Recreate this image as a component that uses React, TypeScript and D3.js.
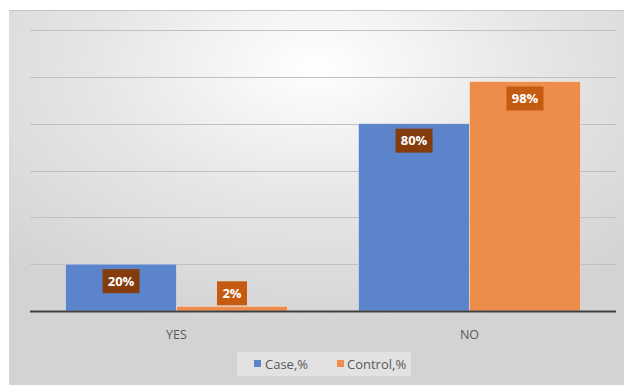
import React from "react";
import * as d3 from "d3";

const categories = ["YES", "NO"];
const seriesNames = ["Case,%", "Control,%"];
const caseValues = [20, 80];
const controlValues = [2, 98];
const yTicks = [0, 20, 40, 60, 80, 100, 120];

const W = 624;
const H = 385;
const colors = ["#5b84cb", "#ee8c4c"];
const labelColors = ["#843c0c", "#c55a11"];

export default function App() {
  const x0 = d3.scaleBand<string>().domain(categories).range([30, 616]).paddingInner(0).paddingOuter(0);
  const x1 = d3.scaleBand<string>().domain(seriesNames).range([0, x0.bandwidth()]).paddingInner(0).paddingOuter(0.32);
  const y = d3.scaleLinear().domain([0, 120]).range([311, 30]);
  const values = [caseValues, controlValues];

  return (
    <svg width={W} height={H} style={{ position: "absolute", left: 0, top: 0 }} fontFamily="'Open Sans', sans-serif">
      <defs>
        <radialGradient id="bg" cx="50%" cy="15%" r="72%">
          <stop offset="0%" stopColor="#ffffff" />
          <stop offset="50%" stopColor="#e6e6e6" />
          <stop offset="100%" stopColor="#d3d3d3" />
        </radialGradient>
      </defs>
      <rect x={0} y={0} width={W} height={H} fill="#ffffff" />
      <rect x={9} y={10} width={W - 9} height={H - 10} fill="url(#bg)" />
      <line x1={9} x2={W} y1={10.5} y2={10.5} stroke="#c4c4c4" />
      {yTicks.slice(1).map((t) => (
        <line key={t} x1={30} x2={616} y1={Math.round(y(t)) + 0.5} y2={Math.round(y(t)) + 0.5} stroke="#c0c0c0" strokeWidth={1} />
      ))}
      {categories.map((c, ci) =>
        seriesNames.map((s, si) => {
          const v = values[si][ci];
          const bx = (x0(c) as number) + (x1(s) as number);
          const bw = x1.bandwidth();
          const by = y(v);
          const bh = y(0) - by;
          const label = `${v}%`;
          const boxW = label.length === 2 ? 30 : 37;
          const boxH = 24;
          const inside = bh > boxH + 10;
          const boxY = inside ? by + 5 : by - boxH - 1;
          const cx = bx + bw / 2;
          return (
            <g key={c + s}>
              <rect x={bx} y={by} width={bw} height={bh} fill={colors[si]} stroke="#ffffff" strokeOpacity={0.5} strokeWidth={0.8} />
              <rect x={cx - boxW / 2} y={boxY} width={boxW} height={boxH} fill={labelColors[si]} />
              <text x={cx} y={boxY + boxH / 2} dy="0.36em" textAnchor="middle" fill="#ffffff" fontWeight="bold" fontSize={13}>
                {label}
              </text>
            </g>
          );
        })
      )}
      <line x1={30} x2={616} y1={311.5} y2={311.5} stroke="#404040" strokeWidth={2} />
      {categories.map((c) => (
        <text key={c} x={(x0(c) as number) + x0.bandwidth() / 2} y={334} dy="0.36em" textAnchor="middle" fill="#595959" fontSize={12.5}>
          {c}
        </text>
      ))}
      <rect x={237} y={352} width={174} height={24} fill="#e2e2e2" />
      <rect x={254} y={360} width={7} height={7} fill={colors[0]} />
      <text x={265} y={364} dy="0.36em" fill="#595959" fontSize={13}>{seriesNames[0]}</text>
      <rect x={337} y={360} width={7} height={7} fill={colors[1]} />
      <text x={347} y={364} dy="0.36em" fill="#595959" fontSize={13}>{seriesNames[1]}</text>
    </svg>
  );
}
